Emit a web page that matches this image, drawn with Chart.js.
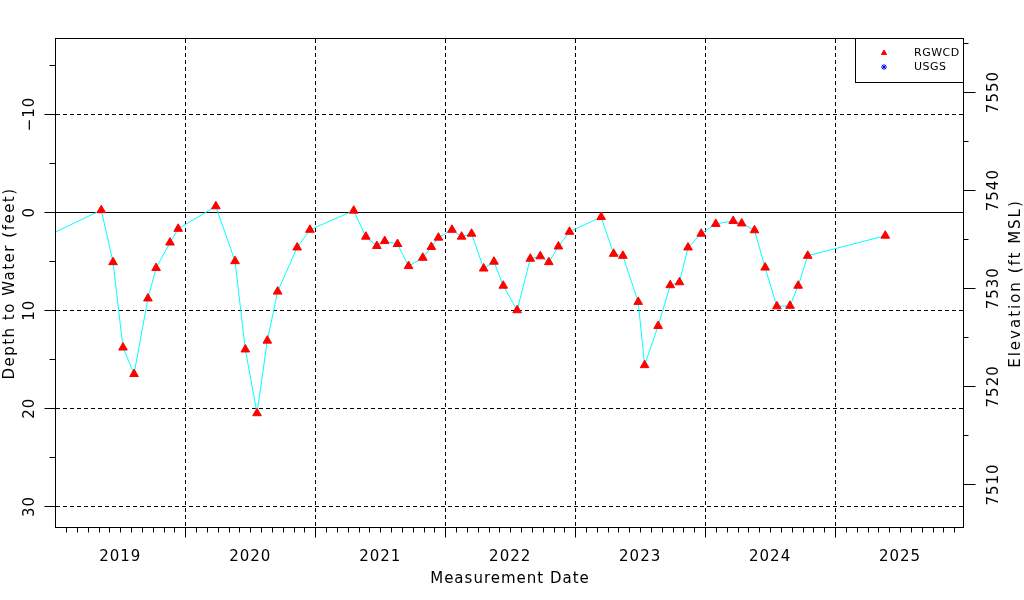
<!DOCTYPE html>
<html>
<head>
<meta charset="utf-8">
<title>Depth to Water</title>
<script src="https://cdn.jsdelivr.net/npm/chart.js@4.4.1/dist/chart.umd.min.js"></script>
<style>
  html, body { margin: 0; padding: 0; background: #fff; }
</style>
</head>
<body>
<canvas id="graph" width="1024" height="600"></canvas>
<script>
// measurement dates and depth to water (feet below land surface)
var rgwcdDates = [
    "2018-11-06", "2019-05-10", "2019-06-12", "2019-07-10", "2019-08-10", "2019-09-18",
    "2019-10-11", "2019-11-19", "2019-12-12", "2020-03-27", "2020-05-20", "2020-06-18",
    "2020-07-21", "2020-08-19", "2020-09-17", "2020-11-11", "2020-12-17", "2021-04-19",
    "2021-05-23", "2021-06-23", "2021-07-15", "2021-08-20", "2021-09-20", "2021-10-30",
    "2021-11-23", "2021-12-13", "2022-01-20", "2022-02-16", "2022-03-16", "2022-04-19",
    "2022-05-18", "2022-06-13", "2022-07-22", "2022-08-28", "2022-09-25", "2022-10-19",
    "2022-11-15", "2022-12-16", "2023-03-15", "2023-04-19", "2023-05-15", "2023-06-27",
    "2023-07-15", "2023-08-22", "2023-09-25", "2023-10-21", "2023-11-14", "2023-12-21",
    "2024-01-31", "2024-03-20", "2024-04-13", "2024-05-19", "2024-06-18", "2024-07-21",
    "2024-08-27", "2024-09-19", "2024-10-16", "2025-05-22"
]
var rgwcdDepth = [
    3.0, -0.2, 5.1, 13.8, 16.5, 8.8,
    5.7, 3.1, 1.7, -0.6, 5.0, 14.0,
    20.5, 13.1, 8.1, 3.6, 1.8, -0.15,
    2.5, 3.45, 2.95, 3.25, 5.5, 4.65,
    3.55, 2.6, 1.8, 2.5, 2.2, 5.75,
    5.05, 7.5, 10.0, 4.75, 4.5, 5.1,
    3.5, 2.0, 0.5, 4.25, 4.45, 9.15,
    15.6, 11.6, 7.45, 7.15, 3.6, 2.2,
    1.2, 0.9, 1.15, 1.85, 5.65, 9.6,
    9.55, 7.5, 4.45, 2.4
]
var usgsDates = []
var usgsDepth = []

var yearLabels = ["2019", "2020", "2021", "2022", "2023", "2024", "2025"]
var depthTicks = [-10, 0, 10, 20, 30]
var elevTicks = [7510, 7520, 7530, 7540, 7550]
var landElevation = 7537.76

var depthMin = -17.65
var depthMax = 32.2

// "2019-05-10" -> 2019.35
function toYear(s) {
    var p = s.split("-").map(Number)
    var start = Date.UTC(p[0], 0, 1)
    var end = Date.UTC(p[0] + 1, 0, 1)
    return p[0] + (Date.UTC(p[0], p[1] - 1, p[2]) - start) / (end - start)
}

function makePoints(dates, values) {
    var ret = []
    for (let i = 0; i < dates.length; i++) {
        ret.push({ x: toYear(dates[i]), y: values[i] })
    }
    return ret
}

var font = "'DejaVu Sans', sans-serif"

function crisp(v) {
    return Math.round(v) + 0.5
}

function rotText(ctx, text, x, y) {
    ctx.save()
    ctx.translate(x, y)
    ctx.rotate(-Math.PI / 2)
    ctx.fillText(text, 0, 0)
    ctx.restore()
}

// draws the R style frame, grid, ticks, labels and legend
var rPlot = {
    id: "rPlot",
    beforeDatasetsDraw(chart) {
        const ctx = chart.ctx
        const a = chart.chartArea
        const xs = chart.scales.x
        const ys = chart.scales.y
        ctx.save()
        ctx.strokeStyle = "#000"
        ctx.lineWidth = 1
        ctx.setLineDash([4, 3])
        ctx.beginPath()
        depthTicks.forEach(v => {
            if (v == 0) return
            const py = crisp(ys.getPixelForValue(v))
            ctx.moveTo(a.left, py)
            ctx.lineTo(a.right, py)
        })
        for (let yr = 2020; yr <= 2025; yr++) {
            const px = crisp(xs.getPixelForValue(yr))
            ctx.moveTo(px, a.top)
            ctx.lineTo(px, a.bottom)
        }
        ctx.stroke()

        // land surface
        ctx.setLineDash([])
        ctx.beginPath()
        const py0 = crisp(ys.getPixelForValue(0))
        ctx.moveTo(a.left, py0)
        ctx.lineTo(a.right, py0)
        ctx.stroke()
        ctx.restore()
    },
    afterDraw(chart) {
        const ctx = chart.ctx
        const a = chart.chartArea
        const xs = chart.scales.x
        const ys = chart.scales.y
        const y2 = chart.scales.y2
        const L = crisp(a.left) - 1, R = crisp(a.right) - 1, T = crisp(a.top) - 1, B = crisp(a.bottom) - 1

        ctx.save()
        ctx.strokeStyle = "#000"
        ctx.lineWidth = 1
        ctx.strokeRect(L, T, R - L, B - T)

        ctx.beginPath()
        // month ticks, longer at year boundaries
        for (let i = 0; i <= 84; i++) {
            const v = 2019 + i / 12
            if (v < xs.min || v > xs.max) continue
            const px = crisp(xs.getPixelForValue(v))
            ctx.moveTo(px, B)
            ctx.lineTo(px, B + (i % 12 == 0 ? 10 : 5))
        }
        // depth ticks
        for (let v = -15; v <= 35; v += 5) {
            if (v < depthMin || v > depthMax) continue
            const py = crisp(ys.getPixelForValue(v))
            ctx.moveTo(L, py)
            ctx.lineTo(L - (v % 10 == 0 ? 11 : 6), py)
        }
        // elevation ticks
        for (let v = 7500; v <= 7560; v += 5) {
            if (v < y2.min || v > y2.max) continue
            const py = crisp(y2.getPixelForValue(v))
            ctx.moveTo(R, py)
            ctx.lineTo(R + (v % 10 == 0 ? 12 : 5), py)
        }
        ctx.stroke()

        ctx.fillStyle = "#000"
        ctx.textAlign = "center"
        ctx.textBaseline = "middle"
        ctx.font = "15px " + font
        ctx.letterSpacing = "1px"

        yearLabels.forEach(lab => {
            const yr = Number(lab)
            ctx.fillText(lab, xs.getPixelForValue(yr + 0.5), 557)
        })
        depthTicks.forEach(v => {
            rotText(ctx, v < 0 ? "\u2212" + (-v) : String(v), 30, ys.getPixelForValue(v))
        })
        elevTicks.forEach(v => {
            rotText(ctx, String(v), 994, y2.getPixelForValue(v))
        })

        const midY = (a.top + a.bottom) / 2
        ctx.fillText("Measurement Date", (a.left + a.right) / 2, 579)
        ctx.letterSpacing = "1.5px"
        rotText(ctx, "Depth to Water (feet)", 10, midY)
        ctx.letterSpacing = "2px"
        rotText(ctx, "Elevation (ft MSL)", 1016, midY)

        // legend
        ctx.strokeRect(855.5, T, R - 855.5, 82.5 - T)
        ctx.font = "11px " + font
        ctx.letterSpacing = "0.5px"
        ctx.textAlign = "left"
        chart.data.datasets.forEach((ds, i) => {
            const ly = 53 + i * 14
            ctx.fillStyle = ds.pointBackgroundColor
            ctx.strokeStyle = ds.pointBorderColor
            Chart.helpers.drawPoint(ctx, { pointStyle: ds.pointStyle, radius: 3, rotation: 0, borderWidth: 1 }, 884, ly)
            ctx.fillStyle = "#000"
            ctx.fillText(ds.label, 914, ly)
        })
        ctx.restore()
    }
}

var data = {
    datasets: [
        {
            label: "RGWCD",
            data: makePoints(rgwcdDates, rgwcdDepth),
            borderColor: "#00ffff",
            borderWidth: 1,
            tension: 0,
            pointStyle: "triangle",
            pointRadius: 5,
            pointBackgroundColor: "#ff0000",
            pointBorderColor: "#ff0000",
            pointBorderWidth: 1
        },
        {
            label: "USGS",
            data: makePoints(usgsDates, usgsDepth),
            showLine: false,
            pointStyle: "star",
            pointRadius: 3,
            pointBackgroundColor: "#0000ff",
            pointBorderColor: "#0000ff",
            pointBorderWidth: 1
        }
    ]
}

var options = {
    responsive: false,
    animation: false,
    layout: { padding: { left: 56, top: 39, right: 60, bottom: 72 } },
    plugins: {
        legend: { display: false },
        tooltip: { enabled: false }
    },
    scales: {
        x: { type: "linear", display: false, min: 2019.005, max: 2025.992 },
        y: { type: "linear", display: false, reverse: true, min: depthMin, max: depthMax },
        y2: { type: "linear", display: false, position: "right", min: landElevation - depthMax, max: landElevation - depthMin }
    }
}

var graph = new Chart(document.getElementById("graph"), {
    type: "line",
    data: data,
    options: options,
    plugins: [rPlot]
})
</script>
</body>
</html>
